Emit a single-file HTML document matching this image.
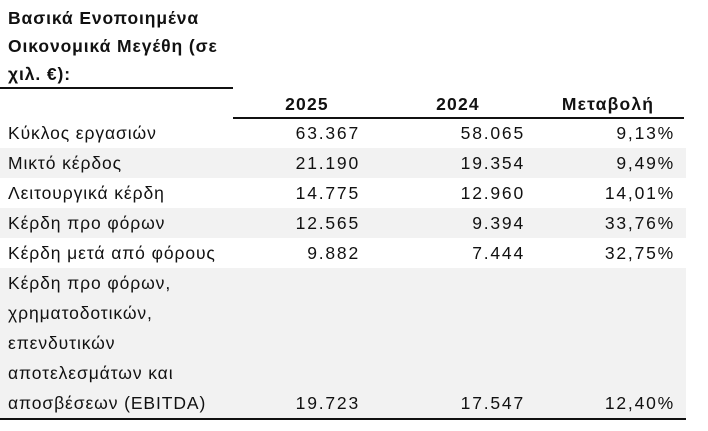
<!DOCTYPE html>
<html><head><meta charset="utf-8"><style>
body{margin:0;width:708px;height:431px;background:#fff;font-family:"Liberation Sans","DejaVu Sans",sans-serif;color:#111;position:relative;overflow:hidden}
.t{position:absolute;left:8px;font-weight:bold;font-size:17.5px;letter-spacing:0.9px;line-height:30px}
.r{position:absolute;left:0;width:686px;height:30px;font-size:17.5px;letter-spacing:0.9px;line-height:30px}
.g{background:#f2f2f2}
.l{position:absolute;left:8px}
.a,.b,.c{letter-spacing:1.8px}
.a{position:absolute;right:calc(686px - 360px)}
.b{position:absolute;right:calc(686px - 525px)}
.c{position:absolute;right:calc(686px - 675px)}
.h{position:absolute;top:89px;height:29px;line-height:30px;font-weight:bold;font-size:17.5px;letter-spacing:1.2px;text-align:center}
</style></head><body>
<div class="t" style="top:3px">Βασικά Ενοποιημένα</div>
<div class="t" style="top:31px">Οικονομικά Μεγέθη (σε</div>
<div class="t" style="top:59px">χιλ. €):</div>
<div style="position:absolute;left:0;top:87px;width:233px;height:1.5px;background:#111"></div>
<div class="h" style="left:257px;width:100px">2025</div>
<div class="h" style="left:408px;width:100px">2024</div>
<div class="h" style="left:543px;width:130px">Μεταβολή</div>
<div style="position:absolute;left:233px;top:117px;width:451px;height:1.5px;background:#111"></div>
<div class="r" style="top:118px"><span class="l">Κύκλος εργασιών</span><span class="a">63.367</span><span class="b">58.065</span><span class="c">9,13%</span></div>
<div class="r g" style="top:148px"><span class="l">Μικτό κέρδος</span><span class="a">21.190</span><span class="b">19.354</span><span class="c">9,49%</span></div>
<div class="r" style="top:178px"><span class="l">Λειτουργικά κέρδη</span><span class="a">14.775</span><span class="b">12.960</span><span class="c">14,01%</span></div>
<div class="r g" style="top:208px"><span class="l">Κέρδη προ φόρων</span><span class="a">12.565</span><span class="b">9.394</span><span class="c">33,76%</span></div>
<div class="r" style="top:238px"><span class="l">Κέρδη μετά από φόρους</span><span class="a">9.882</span><span class="b">7.444</span><span class="c">32,75%</span></div>
<div class="r g" style="top:268px;height:150px"><span class="l">Κέρδη προ φόρων,<br>χρηματοδοτικών,<br>επενδυτικών<br>αποτελεσμάτων και<br>αποσβέσεων (EBITDA)</span><span class="a" style="top:120px">19.723</span><span class="b" style="top:120px">17.547</span><span class="c" style="top:120px">12,40%</span></div>
<div style="position:absolute;left:0;top:418px;width:686px;height:1.5px;background:#111"></div>
</body></html>
